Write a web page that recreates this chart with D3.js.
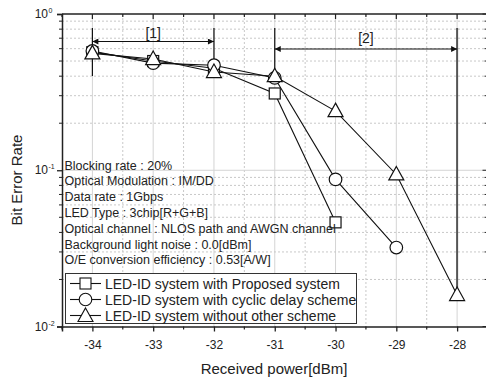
<!DOCTYPE html>
<html><head><meta charset="utf-8">
<script src="https://cdn.jsdelivr.net/npm/d3@7"></script>
<style>body{margin:0;background:#fff}svg{display:block;font-family:"Liberation Sans",Arial,sans-serif}</style>
</head><body><svg id="c" width="486" height="379"></svg>
<script>
const xTicks = [-34,-33,-32,-31,-30,-29,-28];
const yTicks = [1, 0.1, 0.01];
const yTickExp = ["0","-1","-2"];
const seriesNames = ["LED-ID system with Proposed system","LED-ID system with cyclic delay scheme","LED-ID system without other scheme"];
const symbols = ["square","circle","triangle"];
const xProposed = [-34,-33,-32,-31,-30];
const yProposed = [0.57,0.50,0.45,0.31,0.0464];
const xCyclic = [-34,-33,-32,-31,-30,-29];
const yCyclic = [0.58,0.485,0.47,0.39,0.0874,0.032];
const xWithout = [-34,-33,-32,-31,-30,-29,-28];
const yWithout = [0.56,0.515,0.425,0.40,0.239,0.094,0.0159];
const infoLines = ["Blocking rate : 20%","Optical Modulation : IM/DD","Data rate :  1Gbps","LED Type : 3chip[R+G+B]","Optical channel : NLOS path and AWGN channel","Background light noise : 0.0[dBm]","O/E conversion efficiency : 0.53[A/W]"];
const range1 = [-34,-32], range2 = [-31,-28];
const rangeLabels = ["[1]","[2]"];

const FONT = '"Liberation Sans", Arial, sans-serif';
const svg = d3.select("#c");
const L=62, T=14, B=326.5, R=487.5;
const x = d3.scaleLinear().domain([-34.5,-27.5]).range([L,R]);
const y = d3.scaleLog().domain([0.01,1]).range([B,T]);

// grid
const g = svg.append("g");
const halfX = d3.range(-34.5,-27.4,0.5);
halfX.forEach(v=>{
  const major = Number.isInteger(v);
  if (v===-34.5) return;
  g.append("line").attr("x1",x(v)).attr("x2",x(v)).attr("y1",T).attr("y2",B)
   .attr("stroke",major?"#d4d4d4":"#c8c8c8").attr("stroke-width",1)
   .attr("stroke-dasharray",major?null:"2,2");
});
const minorY = [];
[0.01,0.1].forEach(d=>{for(let k=2;k<=9;k++)minorY.push(d*k);});
minorY.forEach(v=>{
  g.append("line").attr("x1",L).attr("x2",R).attr("y1",y(v)).attr("y2",y(v))
   .attr("stroke","#c8c8c8").attr("stroke-dasharray","2,2");
});
g.append("line").attr("x1",L).attr("x2",R).attr("y1",y(0.1)).attr("y2",y(0.1)).attr("stroke","#d4d4d4");

// axes
const xAxis = d3.axisBottom(x).tickValues(xTicks).tickSize(5).tickFormat(d=>d);
const ax = svg.append("g").attr("transform",`translate(0,${B})`).call(xAxis);
ax.attr("font-family",FONT);
ax.select(".domain").attr("stroke","#222").attr("stroke-width",1.5);
ax.selectAll(".tick line").attr("stroke","#222").attr("stroke-width",1.3);
ax.selectAll(".tick text").attr("font-size",12).attr("fill","#222").attr("dy","1.2em");
// minor x ticks bottom
halfX.filter(v=>!Number.isInteger(v)).forEach(v=>{
  svg.append("line").attr("x1",x(v)).attr("x2",x(v)).attr("y1",B).attr("y2",B+3).attr("stroke","#222").attr("stroke-width",1.2);
});
// top spine and inward ticks
svg.append("line").attr("x1",L).attr("x2",R).attr("y1",T).attr("y2",T).attr("stroke","#222").attr("stroke-width",1.5);
halfX.forEach(v=>{
  svg.append("line").attr("x1",x(v)).attr("x2",x(v)).attr("y1",T).attr("y2",T+(Number.isInteger(v)?5:3)).attr("stroke","#222").attr("stroke-width",1.2);
});
// left axis
const yAxis = d3.axisLeft(y).tickValues(yTicks).tickSize(5).tickFormat("");
const ay = svg.append("g").attr("transform",`translate(${L},0)`).call(yAxis);
ay.select(".domain").attr("stroke","#222").attr("stroke-width",1.5);
ay.selectAll(".tick line").attr("stroke","#222").attr("stroke-width",1.3);
minorY.forEach(v=>{
  svg.append("line").attr("x1",L-3).attr("x2",L).attr("y1",y(v)).attr("y2",y(v)).attr("stroke","#222");
  svg.append("line").attr("x1",R-3).attr("x2",R).attr("y1",y(v)).attr("y2",y(v)).attr("stroke","#222");
});
yTicks.forEach((v,i)=>{
  svg.append("text").attr("x",48).attr("y",y(v)+4).attr("text-anchor","end")
    .attr("font-size",12).attr("fill","#222").text("10");
  svg.append("text").attr("x",48.5).attr("y",y(v)-1).attr("font-size",7).attr("fill","#222").text(yTickExp[i]);
  svg.append("line").attr("x1",R-5).attr("x2",R).attr("y1",y(v)).attr("y2",y(v)).attr("stroke","#222");
});
svg.append("line").attr("x1",R).attr("x2",R).attr("y1",T).attr("y2",B).attr("stroke","#222").attr("stroke-width",1.5);

// axis titles
svg.append("text").attr("x",274).attr("y",374).attr("text-anchor","middle").attr("font-size",15).attr("fill","#222").text("Received power[dBm]");
svg.append("text").attr("transform","translate(22,180) rotate(-90)").attr("text-anchor","middle").attr("font-size",15).attr("fill","#222").text("Bit Error Rate");

// range annotations
const defs = svg.append("defs");
defs.append("marker").attr("id","ah").attr("viewBox","0 0 10 10").attr("refX",10).attr("refY",5)
  .attr("markerWidth",8).attr("markerHeight",6).attr("markerUnits","userSpaceOnUse").attr("orient","auto-start-reverse")
  .append("path").attr("d","M0,0 L10,5 L0,10 Z").attr("fill","#111");
const ann = svg.append("g");
// [1]
ann.append("line").attr("x1",x(range1[0])).attr("x2",x(range1[0])).attr("y1",28).attr("y2",76).attr("stroke","#111").attr("stroke-width",1.2);
ann.append("line").attr("x1",x(range1[1])).attr("x2",x(range1[1])).attr("y1",28).attr("y2",76).attr("stroke","#111").attr("stroke-width",1.2);
ann.append("line").attr("x1",x(range1[0])).attr("x2",x(range1[1])).attr("y1",41.5).attr("y2",41.5).attr("stroke","#111").attr("stroke-width",1.2)
  .attr("marker-start","url(#ah)").attr("marker-end","url(#ah)");
ann.append("text").attr("x",(x(range1[0])+x(range1[1]))/2).attr("y",37.5).attr("text-anchor","middle").attr("font-size",14).attr("fill","#222").text(rangeLabels[0]);
// [2]
ann.append("line").attr("x1",x(range2[0])).attr("x2",x(range2[0])).attr("y1",28).attr("y2",76).attr("stroke","#111").attr("stroke-width",1.2);
ann.append("line").attr("x1",x(range2[1])).attr("x2",x(range2[1])).attr("y1",28).attr("y2",y(yWithout[6])).attr("stroke","#555").attr("stroke-width",2);
ann.append("line").attr("x1",x(range2[0])).attr("x2",x(range2[1])).attr("y1",49).attr("y2",49).attr("stroke","#111").attr("stroke-width",1.2)
  .attr("marker-start","url(#ah)").attr("marker-end","url(#ah)");
ann.append("text").attr("x",(x(range2[0])+x(range2[1]))/2).attr("y",43).attr("text-anchor","middle").attr("font-size",14).attr("fill","#222").text(rangeLabels[1]);

// series
const series = [
  {xs:xProposed, ys:yProposed, sym:symbols[0]},
  {xs:xCyclic, ys:yCyclic, sym:symbols[1]},
  {xs:xWithout, ys:yWithout, sym:symbols[2]}
];
const line = d3.line().x(d=>x(d[0])).y(d=>y(d[1]));
series.forEach(s=>{
  svg.append("path").attr("d",line(s.xs.map((v,i)=>[v,s.ys[i]]))).attr("fill","none").attr("stroke","#111").attr("stroke-width",1.1);
});
function drawSym(sel,sym,cx,cy){
  if(sym==="square") sel.append("rect").attr("x",cx-5.5).attr("y",cy-5.5).attr("width",11).attr("height",11);
  else if(sym==="circle") sel.append("circle").attr("cx",cx).attr("cy",cy).attr("r",6.3);
  else sel.append("path").attr("d",`M${cx},${cy-8} L${cx+7.5},${cy+5.5} L${cx-7.5},${cy+5.5} Z`);
}
series.forEach(s=>{
  const gg = svg.append("g").attr("fill","#fff").attr("stroke","#111").attr("stroke-width",1.2);
  s.xs.forEach((v,i)=>drawSym(gg,s.sym,x(v),y(s.ys[i])));
});

// info text
infoLines.forEach((t,i)=>{
  svg.append("text").attr("x",64.5).attr("y",169.5+i*15.8).attr("font-size",12.5).attr("fill","#222").text(t);
});

// legend
const lg = svg.append("g");
lg.append("rect").attr("x",65.5).attr("y",273.5).attr("width",291).attr("height",50).attr("fill","#fff").attr("stroke","#333").attr("stroke-width",1);
seriesNames.forEach((n,i)=>{
  const cy = 283.5+i*16;
  lg.append("line").attr("x1",70).attr("x2",101).attr("y1",cy).attr("y2",cy).attr("stroke","#111").attr("stroke-width",1.1);
  const gg = lg.append("g").attr("fill","#fff").attr("stroke","#111").attr("stroke-width",1.1);
  drawSym(gg,symbols[i],85.5,cy+(symbols[i]==="triangle"?0.5:0));
  lg.append("text").attr("x",105).attr("y",cy+5).attr("font-size",14).attr("fill","#222").text(n);
});
</script></body></html>
